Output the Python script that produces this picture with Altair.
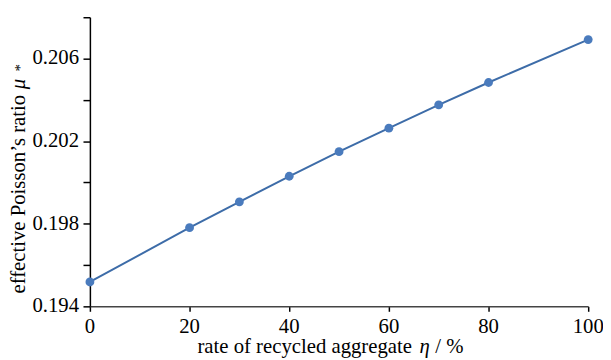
import altair as alt
import pandas as pd

# data
eta = [0, 20, 30, 40, 50, 60, 70, 80, 100]
mu = [0.19518, 0.19781, 0.19906, 0.20030, 0.20149, 0.20263, 0.20376, 0.20484, 0.20692]

# axis tick values / labels
x_ticks = [0, 20, 40, 60, 80, 100]
y_ticks = [0.194, 0.196, 0.198, 0.200, 0.202, 0.204, 0.206, 0.208]
y_labels = [0.194, 0.198, 0.202, 0.206]

x_title = ["rate of recycled aggregate ", "η", "/ %"]
y_title = ["effective Poisson’s ratio", "μ", "*"]

font = "Liberation Serif"
FS = 21

df = pd.DataFrame({"eta": eta, "mu": mu})
xscale = alt.Scale(domain=[0, 100], nice=False, zero=False)
yscale = alt.Scale(domain=[0.194, 0.208], nice=False, zero=False)

xaxis = alt.Axis(title=None, values=x_ticks, labels=False, grid=False, tickSize=5,
                 domainColor="#444444")
yaxis = alt.Axis(title=None, values=y_ticks, labels=False, grid=False, tickSize=7)

base = alt.Chart(df).encode(x=alt.X("eta:Q", scale=xscale, axis=xaxis),
                            y=alt.Y("mu:Q", scale=yscale, axis=yaxis))
line = base.mark_line(color="#3d6ca8", strokeWidth=2)
pts = base.mark_circle(color="#4a7bbd", size=80, opacity=1)

# tick labels (positioned through the scales)
xlab = alt.Chart(pd.DataFrame({"eta": x_ticks})).mark_text(
    font=font, fontSize=FS, baseline="alphabetic", align="center", color="black"
).encode(x=alt.X("eta:Q", scale=xscale, axis=xaxis), y=alt.value(320),
         text=alt.Text("eta:Q", format="d"))

ylab = alt.Chart(pd.DataFrame({"mu": y_labels})).mark_text(
    font=font, fontSize=FS, baseline="middle", align="right", color="black"
).encode(y=alt.Y("mu:Q", scale=yscale, axis=yaxis), x=alt.value(-11),
         text=alt.Text("mu:Q", format=".3f"))

# axis titles
def title_part(txt, xpos, ypos, angle=0, italic=False, size=FS):
    kw = dict(font=font, fontSize=size, align="left", baseline="alphabetic", color="black", angle=angle)
    if italic:
        kw["fontStyle"] = "italic"
    return alt.Chart(pd.DataFrame({"t": [txt]})).mark_text(**kw).encode(
        x=alt.value(xpos), y=alt.value(ypos), text="t:N")

xt1 = title_part(x_title[0], 109, 340)
xt2 = title_part(x_title[1], 334, 340, italic=True)
xt3 = title_part(x_title[2], 350, 340)

yt1 = title_part(y_title[0], -66, 280, angle=270)
yt2 = title_part(y_title[1], -66, 73, angle=270, italic=True)
yt3 = title_part(y_title[2], -66, 55, angle=270, size=15)

chart = alt.layer(line, pts, xlab, ylab, xt1, xt2, xt3, yt1, yt2, yt3).properties(
    width=505, height=293,
    autosize=alt.AutoSizeParams(type="none"),
    padding={"left": 83, "top": 7, "right": 15, "bottom": 52},
).configure_view(stroke=None).configure_axis(
    domainColor="black", tickColor="black", domainWidth=1.5, tickWidth=1.5,
)

chart.save("out.html", embed_options={"renderer": "svg", "actions": False})
